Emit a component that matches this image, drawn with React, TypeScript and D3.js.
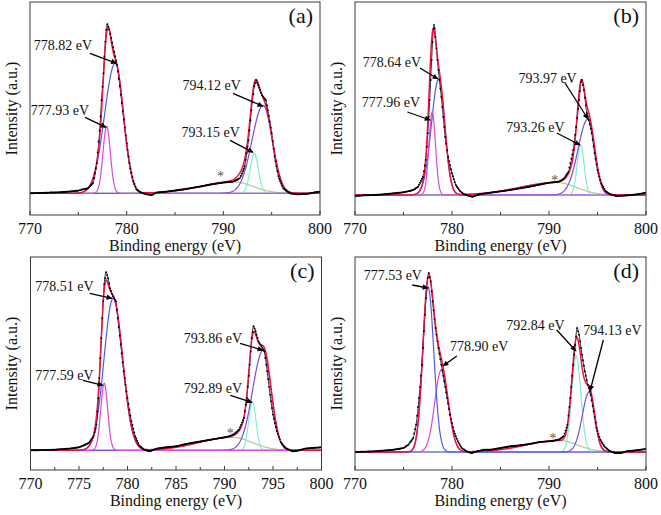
import React from "react";
import * as d3 from "d3";

// ---------- tick values ----------
const TICKS_10 = [770, 780, 790, 800];
const MINOR_10 = [775, 785, 795];
const TICKS_5 = [770, 775, 780, 785, 790, 795, 800];
const MINOR_5 = [772.5, 777.5, 782.5, 787.5, 792.5, 797.5];

// ---------- measured spectra (binding energy eV, intensity a.u.) ----------
const spectrumA: [number, number][] = [
  [770, 0], [771, 0.3], [772, 0.7], [773, 1], [774, 1.7], [775, 2.7], [775.5, 4], [776, 5], [776.5, 10], [776.9, 30],
  [777.24, 67], [777.4, 93], [777.6, 120], [777.76, 147], [777.93, 167], [778.0, 169], [778.17, 165], [778.45, 153],
  [778.8, 137], [779.03, 127], [779.3, 107], [779.66, 77], [780.0, 50], [780.35, 27], [780.7, 12], [781.0, 4], [781.4, 1],
  [782.07, -1], [782.6, -1.7], [783.1, 0.7], [784.1, 1.7], [785.9, 4], [787.6, 6.7], [789, 9.3], [790, 10.7], [791, 11.7],
  [791.7, 15], [792.2, 27], [792.6, 53], [792.9, 83], [793.2, 107], [793.4, 113], [793.6, 108], [794.0, 98], [794.4, 93],
  [794.66, 80], [795.0, 60], [795.3, 37], [795.7, 17], [796.2, 5], [796.9, 0], [797.6, -1], [798.6, -0.7], [799.5, 1], [800, 1.7],
];
const spectrumB: [number, number][] = [
  [770, -1], [771, -0.3], [772, 0], [773, 0.7], [774, 1.7], [775, 2.7], [776, 5], [776.5, 8.3], [777, 18.3], [777.3, 35],
  [777.5, 61.7], [777.7, 95], [777.9, 135], [778.05, 161.7], [778.15, 171], [778.3, 158], [778.5, 135], [778.7, 115],
  [778.9, 98], [779.1, 78], [779.3, 58], [779.6, 38], [780, 21.7], [780.4, 10], [780.8, 4.3], [781.2, 1], [781.7, -0.7],
  [782.1, -1.7], [782.6, 0], [783, 1], [784, 2.3], [786, 5], [788, 8.3], [790, 12.3], [791, 13.3], [791.5, 16], [792, 23],
  [792.5, 45], [792.8, 68], [793.1, 95], [793.3, 113], [793.4, 115], [793.6, 105], [793.9, 82], [794.1, 75], [794.4, 62],
  [794.7, 42], [795, 25], [795.4, 11.7], [795.8, 4.3], [796.3, 0.7], [797, -1], [797.6, -0.7], [798.5, 0], [799.3, 1], [800, 2.3],
];
const spectrumC: [number, number][] = [
  [770, 0], [772, 0.3], [774, 1.7], [775, 3], [776, 7.3], [776.5, 14], [776.8, 25.7], [777, 52], [777.2, 92], [777.4, 132],
  [777.6, 166], [777.8, 178], [778, 172], [778.2, 162], [778.5, 154], [778.8, 149], [779, 132], [779.3, 106], [779.6, 79],
  [780, 52], [780.4, 29], [780.8, 14], [781.2, 5], [781.7, 0.7], [782.3, -1], [783, 1.7], [784, 3], [785, 4], [786, 6.3],
  [787, 8], [788, 9.7], [789, 11.3], [790, 13], [790.5, 14], [791, 16.3], [791.5, 20.7], [792, 32.3], [792.3, 52.3],
  [792.6, 85.7], [792.8, 112], [793, 124], [793.2, 119], [793.5, 109], [793.8, 104], [794.1, 99], [794.4, 79], [794.7, 55.7],
  [795, 35.7], [795.4, 19], [795.8, 8.3], [796.3, 2.3], [797, -1], [797.6, -0.3], [798.3, 1.7], [799, 2.3], [800, 3],
];
const spectrumD: [number, number][] = [
  [770, 0], [772, 0.7], [774, 2.3], [775, 4], [775.5, 7.3], [776, 14], [776.3, 27.3], [776.6, 54], [776.9, 87.3],
  [777.1, 120.7], [777.3, 154], [777.5, 174], [777.6, 179], [777.8, 170.7], [778, 150.7], [778.3, 124], [778.6, 104],
  [778.9, 87.3], [779.2, 70.7], [779.5, 54], [779.8, 37.3], [780.2, 20.7], [780.6, 10.7], [781, 4], [781.5, 0.7], [782, -1],
  [782.6, 0.7], [783.3, 2.3], [784, 2.3], [785, 4], [786, 5.7], [787, 6.7], [788, 8], [789, 10], [790, 10.7], [790.5, 11.3],
  [791, 12.3], [791.5, 15.7], [791.9, 27.3], [792.2, 54], [792.5, 87.3], [792.7, 107.3], [792.9, 124], [793.1, 117.3],
  [793.4, 97.3], [793.7, 80.7], [794, 67.3], [794.3, 57.3], [794.6, 40.7], [794.9, 24], [795.3, 12.3], [795.7, 5.7],
  [796.2, 1.3], [796.8, -1], [797.4, -1], [798, 0.7], [799, 1.7], [800, 3],
];

// ---------- fitted components (center eV, height, FWHM low side, FWHM high side) ----------
type Comp = { role: string; center: number; height: number; wLow: number; wHigh: number };
const componentsA: Comp[] = [
  { role: "sat", center: 791.0, height: 11.5, wLow: 8, wHigh: 4.8 },
  { role: "blue", center: 778.82, height: 130, wLow: 2.6, wHigh: 2.0 },
  { role: "cyan", center: 793.2, height: 40, wLow: 1.0, wHigh: 1.0 },
  { role: "purple", center: 794.12, height: 88, wLow: 2.7, wHigh: 2.2 },
  { role: "magenta", center: 777.93, height: 67, wLow: 0.9, wHigh: 0.9 },
];
const componentsB: Comp[] = [
  { role: "sat", center: 790.8, height: 12.5, wLow: 9, wHigh: 4.8 },
  { role: "blue", center: 778.64, height: 116, wLow: 1.8, wHigh: 1.45 },
  { role: "cyan", center: 793.26, height: 50, wLow: 0.85, wHigh: 0.85 },
  { role: "purple", center: 794.02, height: 76, wLow: 2.4, wHigh: 1.6 },
  { role: "magenta", center: 777.96, height: 83, wLow: 0.8, wHigh: 0.8 },
];
const componentsC: Comp[] = [
  { role: "sat", center: 790.8, height: 13, wLow: 8, wHigh: 4.8 },
  { role: "blue", center: 778.52, height: 152, wLow: 2.2, wHigh: 2.3 },
  { role: "cyan", center: 792.87, height: 48, wLow: 0.9, wHigh: 0.9 },
  { role: "purple", center: 793.99, height: 100, wLow: 2.55, wHigh: 1.9 },
  { role: "magenta", center: 777.6, height: 67, wLow: 0.85, wHigh: 0.85 },
];
const componentsD: Comp[] = [
  { role: "sat", center: 791.0, height: 11.5, wLow: 8, wHigh: 4.6 },
  { role: "magenta", center: 778.9, height: 82, wLow: 1.6, wHigh: 1.7 },
  { role: "cyan", center: 792.8, height: 96, wLow: 1.1, wHigh: 1.15 },
  { role: "purple", center: 794.15, height: 60, wLow: 1.7, wHigh: 1.3 },
  { role: "blue", center: 777.53, height: 165, wLow: 1.3, wHigh: 1.4 },
];

// ---------- annotations (text, text anchor point, arrow start, arrow tip; data coords) ----------
type Note = { text: string; tx: number; ty: number; x1: number; y1: number; x2: number; y2: number };
const notesA: Note[] = [
  { text: "778.82 eV", tx: 773.4, ty: 148, x1: 776.2, y1: 140, x2: 778.95, y2: 130 },
  { text: "777.93 eV", tx: 773.1, ty: 83, x1: 775.7, y1: 76, x2: 777.86, y2: 66 },
  { text: "794.12 eV", tx: 788.8, ty: 108, x1: 791.0, y1: 100, x2: 794.1, y2: 87 },
  { text: "793.15 eV", tx: 788.7, ty: 61, x1: 790.7, y1: 53, x2: 793.07, y2: 41 },
];
const notesB: Note[] = [
  { text: "778.64 eV", tx: 773.8, ty: 133, x1: 776.7, y1: 127, x2: 778.56, y2: 116 },
  { text: "777.96 eV", tx: 773.7, ty: 93, x1: 775.4, y1: 83, x2: 777.75, y2: 75 },
  { text: "793.97 eV", tx: 789.85, ty: 117, x1: 791.65, y1: 112, x2: 794.02, y2: 76 },
  { text: "793.26 eV", tx: 788.6, ty: 68, x1: 790.8, y1: 62, x2: 793.2, y2: 50 },
];
const notesC: Note[] = [
  { text: "778.51 eV", tx: 773.5, ty: 164, x1: 776.1, y1: 157, x2: 778.4, y2: 152 },
  { text: "777.59 eV", tx: 773.5, ty: 75, x1: 775.4, y1: 70, x2: 777.47, y2: 65 },
  { text: "793.86 eV", tx: 788.8, ty: 112, x1: 791.6, y1: 107, x2: 793.97, y2: 100 },
  { text: "792.89 eV", tx: 788.8, ty: 62, x1: 790.6, y1: 55, x2: 792.84, y2: 48 },
];
const notesD: Note[] = [
  { text: "777.53 eV", tx: 773.9, ty: 177, x1: 775.9, y1: 167, x2: 777.53, y2: 164 },
  { text: "778.90 eV", tx: 782.8, ty: 106, x1: 780.5, y1: 96, x2: 779.07, y2: 86 },
  { text: "792.84 eV", tx: 788.6, ty: 127, x1: 790.8, y1: 122, x2: 792.78, y2: 101 },
  { text: "794.13 eV", tx: 796.55, ty: 122, x1: 795.6, y1: 112, x2: 794.23, y2: 61 },
];
// satellite marker positions (eV, intensity)
const starA: [number, number] = [789.7, 20];
const starB: [number, number] = [790.6, 18];
const starC: [number, number] = [790.6, 20];
const starD: [number, number] = [790.4, 17];

// ---------- styling / layout ----------
const COLORS: Record<string, string> = {
  sat: "#b7c98c",
  blue: "#4a5cf0",
  cyan: "#7cefd8",
  purple: "#7a48e2",
  magenta: "#d94ad9",
  fit: "#ee1040",
  data: "#000000",
};
const FONT = '"Liberation Serif", "Times New Roman", serif';
const txt = (size: number, fill = "#111") => ({ fontFamily: FONT, fontSize: size, fill });

type PanelCfg = {
  id: string; left: number; top: number; width: number; height: number;
  yMin: number; yMax: number; ticks: number[]; minor: number[];
  spectrum: [number, number][]; comps: Comp[]; notes: Note[]; star: [number, number];
};
const PANELS: PanelCfg[] = [
  { id: "(a)", left: 30, top: 2, width: 290, height: 213, yMin: -21.7, yMax: 191.3, ticks: TICKS_10, minor: MINOR_10, spectrum: spectrumA, comps: componentsA, notes: notesA, star: starA },
  { id: "(b)", left: 355, top: 2, width: 291, height: 213, yMin: -20, yMax: 193, ticks: TICKS_10, minor: MINOR_10, spectrum: spectrumB, comps: componentsB, notes: notesB, star: starB },
  { id: "(c)", left: 30.5, top: 257, width: 291, height: 213, yMin: -19.7, yMax: 193.3, ticks: TICKS_5, minor: MINOR_5, spectrum: spectrumC, comps: componentsC, notes: notesC, star: starC },
  { id: "(d)", left: 355, top: 257, width: 291, height: 213, yMin: -18, yMax: 195, ticks: TICKS_10, minor: MINOR_10, spectrum: spectrumD, comps: componentsD, notes: notesD, star: starD },
];

function compValue(c: Comp, x: number) {
  const w = x < c.center ? c.wLow : c.wHigh;
  return c.height * Math.exp((-4 * Math.LN2 * (x - c.center) ** 2) / (w * w));
}

const GRID = d3.range(770, 800.0001, 0.05);
const DOT_GRID = d3.range(770, 800.0001, 0.1);

function Panel({ cfg }: { cfg: PanelCfg }) {
  const { left, top, width, height } = cfg;
  const bottom = top + height;
  const right = left + width;
  const x = d3.scaleLinear().domain([770, 800]).range([left, right]);
  const y = d3.scaleLinear().domain([cfg.yMin, cfg.yMax]).range([bottom, top]);
  const line = d3.line<[number, number]>().x((d) => x(d[0])).y((d) => y(d[1]));
  const smooth = d3.line<[number, number]>().x((d) => x(d[0])).y((d) => y(d[1])).curve(d3.curveMonotoneX);

  const fitPts: [number, number][] = GRID.map((e) => [e, d3.sum(cfg.comps, (c) => compValue(c, e))]);
  const interp = d3.scaleLinear().domain(cfg.spectrum.map((d) => d[0])).range(cfg.spectrum.map((d) => d[1]));
  const clipId = "clip" + cfg.id.replace(/[()]/g, "");

  return (
    <g>
      <defs>
        <clipPath id={clipId}>
          <rect x={left} y={top} width={width} height={height} />
        </clipPath>
      </defs>
      <g clipPath={`url(#${clipId})`}>
        {cfg.comps.map((c, i) => (
          <path key={i} d={line(GRID.map((e) => [e, compValue(c, e)] as [number, number])) || ""}
            fill="none" stroke={COLORS[c.role]} strokeWidth={1.2} />
        ))}
        <path d={smooth(cfg.spectrum) || ""} fill="none" stroke={COLORS.data} strokeWidth={0.8} />
        <path d={line(fitPts) || ""} fill="none" stroke={COLORS.fit} strokeWidth={1.5} />
        {DOT_GRID.map((e, i) => (
          <circle key={i} cx={x(e)} cy={y(interp(e))} r={0.95} fill={COLORS.data} />
        ))}
      </g>
      {/* frame */}
      <rect x={left} y={top} width={width} height={height} fill="none" stroke="#3a3a3a" strokeWidth={1} />
      {/* ticks */}
      {cfg.ticks.map((t) => (
        <line key={"t" + t} x1={x(t)} x2={x(t)} y1={bottom} y2={bottom - 4} stroke="#3a3a3a" strokeWidth={1} />
      ))}
      {cfg.minor.map((t) => (
        <line key={"m" + t} x1={x(t)} x2={x(t)} y1={bottom} y2={bottom - 3} stroke="#3a3a3a" strokeWidth={1} />
      ))}
      {cfg.ticks.map((t) => (
        <text key={"l" + t} x={x(t)} y={bottom + 18.5} textAnchor="middle" style={txt(16)}>
          {t}
        </text>
      ))}
      <text x={(left + right) / 2} y={bottom + 35.5} textAnchor="middle" style={txt(16)}>
        Binding energy (eV)
      </text>
      <text transform={`translate(${left - 19},${(top + bottom) / 2}) rotate(-90)`} dy="0.35em" textAnchor="middle"
        style={txt(16)}>
        Intensity (a.u.)
      </text>
      <text x={right - 7} y={top + 20.5} textAnchor="end" style={txt(22)}>
        {cfg.id}
      </text>
      {/* annotations */}
      {cfg.notes.map((n, i) => (
        <g key={"n" + i}>
          <text x={x(n.tx)} y={y(n.ty)} dy="0.35em" textAnchor="middle" style={txt(14)}>
            {n.text}
          </text>
          <line x1={x(n.x1)} y1={y(n.y1)} x2={x(n.x2)} y2={y(n.y2)} stroke="#000" strokeWidth={1.3}
            markerEnd="url(#arrowHead)" />
        </g>
      ))}
      <text x={x(cfg.star[0])} y={y(cfg.star[1])} dy="0.55em" textAnchor="middle" style={txt(14, "#555")}>
        *
      </text>
    </g>
  );
}

export default function App() {
  return (
    <svg width={661} height={515} viewBox="0 0 661 515" style={{ display: "block", position: "absolute", left: 0, top: 0, background: "#fff" }}>
      <defs>
        <marker id="arrowHead" viewBox="0 0 10 10" refX={9} refY={5} markerWidth={8} markerHeight={6}
          markerUnits="userSpaceOnUse" orient="auto">
          <path d="M0,0.5 L10,5 L0,9.5 z" fill="#000" />
        </marker>
      </defs>
      <rect x={0} y={0} width={661} height={515} fill="#fff" />
      {PANELS.map((p) => (
        <Panel key={p.id} cfg={p} />
      ))}
    </svg>
  );
}
